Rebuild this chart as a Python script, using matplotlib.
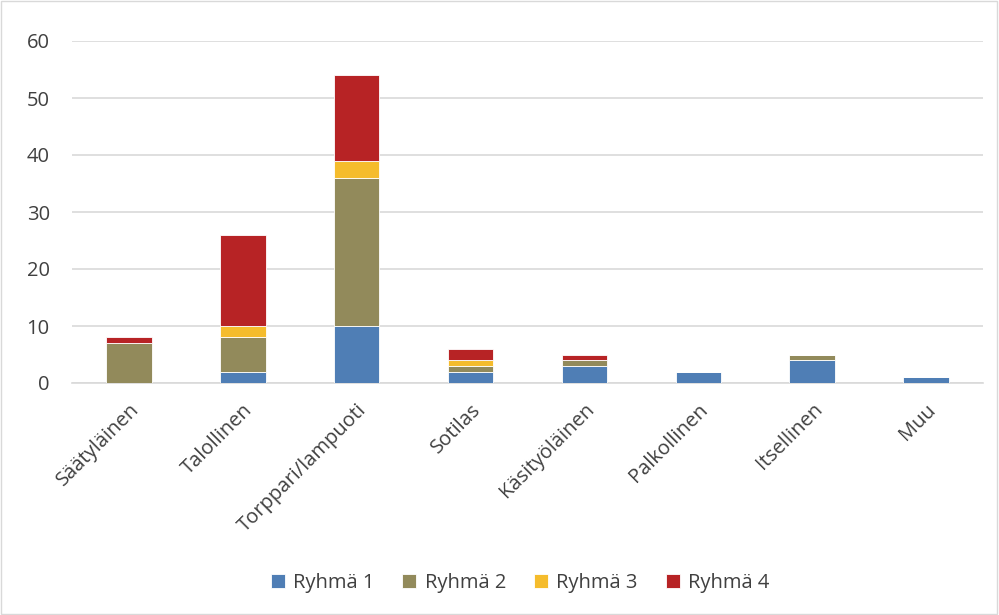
import numpy as np
import matplotlib.pyplot as plt
from matplotlib.patches import Rectangle

categories = ["Säätyläinen", "Talollinen", "Torppari/lampuoti", "Sotilas",
              "Käsityöläinen", "Palkollinen", "Itsellinen", "Muu"]
ryhma1 = [0, 2, 10, 2, 3, 2, 4, 1]
ryhma2 = [7, 6, 26, 1, 1, 0, 1, 0]
ryhma3 = [0, 2, 3, 1, 0, 0, 0, 0]
ryhma4 = [1, 16, 15, 2, 1, 0, 0, 0]
series = [("Ryhmä 1", ryhma1, "#4f7eb5"),
          ("Ryhmä 2", ryhma2, "#928a5b"),
          ("Ryhmä 3", ryhma3, "#f5bc2c"),
          ("Ryhmä 4", ryhma4, "#b72325")]

plt.rcParams['font.family'] = ['Open Sans', 'DejaVu Sans']
fs = 14.5

fig = plt.figure(figsize=(9.99, 6.15), dpi=100)
ax = fig.add_axes([72 / 999, 1 - 383 / 615, 911 / 999, 342 / 615])

x = np.arange(len(categories))
bottom = np.zeros(len(categories))
for name, vals, col in series:
    vals = np.array(vals, dtype=float)
    ax.bar(x, vals, 0.4, bottom=bottom, color=col, label=name,
           edgecolor="white", linewidth=0.6, zorder=3)
    bottom += vals

ax.set_xlim(-0.5, len(categories) - 0.5)
ax.set_ylim(0, 60)
ax.set_yticks(range(0, 61, 10))
ax.yaxis.grid(True, color="#d9d9d9", linewidth=1.2, zorder=0)
for s in ["top", "right", "left"]:
    ax.spines[s].set_visible(False)
ax.spines["bottom"].set_color("#d9d9d9")
ax.spines["bottom"].set_linewidth(1.2)
ax.tick_params(axis="both", length=0, labelsize=fs, colors="#404040")
ax.tick_params(axis="y", pad=16)
ax.set_xticks(x)
ax.set_xticklabels(categories, rotation=45, ha="right", rotation_mode="anchor")
ax.tick_params(axis="x", pad=12)

fig.legend(loc="center", bbox_to_anchor=(520 / 999, 1 - 583 / 615), ncol=4,
           frameon=False, fontsize=fs, handlelength=0.7, handleheight=0.7,
           columnspacing=1.4, handletextpad=0.4, labelcolor="#404040")

fig.patches.append(Rectangle((0.001, 0.001), 0.997, 0.997, transform=fig.transFigure,
                             fill=False, edgecolor="#d9d9d9", linewidth=1))

fig.savefig("out.png", dpi=100)
